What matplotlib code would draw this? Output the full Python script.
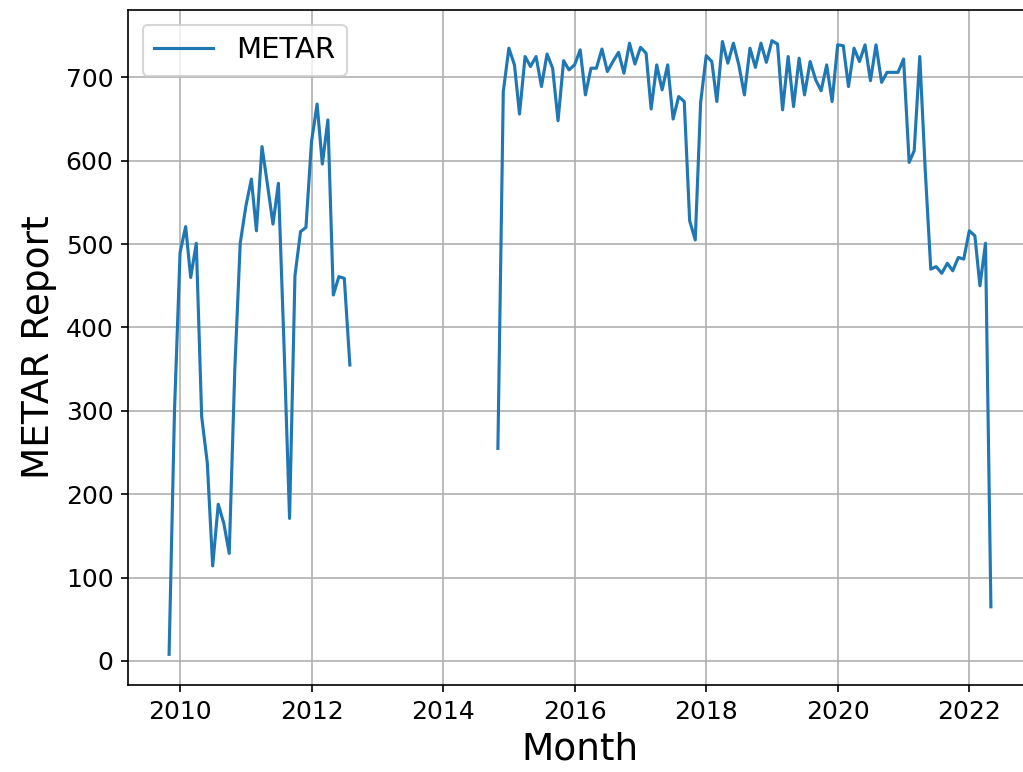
import numpy as np
import pandas as pd
import matplotlib
matplotlib.use("Agg")
import matplotlib.pyplot as plt

# Segment 1: 2009-11 .. 2012-08
seg1_start = "2009-11-01"
seg1_values = [8, 300, 490, 521, 460, 501, 293, 238, 114, 188, 165, 129,
               350, 501, 545, 578, 516, 617, 572, 524, 573, 380, 171, 462,
               515, 520, 623, 668, 596, 649, 439, 461, 459, 355]

# Segment 2: 2014-11 .. 2022-05
seg2_start = "2014-11-01"
seg2_values = [255, 683,
               735, 715, 656, 725, 713, 725, 689, 728, 711, 648, 720, 709,
               715, 733, 679, 711, 711, 734, 707, 719, 730, 705, 741, 716,
               736, 729, 662, 715, 685, 715, 650, 677, 671, 528, 505, 670,
               726, 719, 671, 743, 717, 741, 715, 679, 735, 712, 741, 718,
               744, 740, 661, 725, 665, 723, 679, 719, 697, 684, 715, 671,
               739, 738, 689, 735, 719, 739, 696, 739, 694, 706, 706, 706,
               722, 598, 612, 725, 590, 470, 473, 465, 477, 468, 484, 482,
               516, 510, 450, 501, 65]

d1 = pd.date_range(seg1_start, periods=len(seg1_values), freq="MS")
d2 = pd.date_range(seg2_start, periods=len(seg2_values), freq="MS")
s = pd.concat([pd.Series(seg1_values, index=d1, dtype=float),
               pd.Series(seg2_values, index=d2, dtype=float)])
s = s.reindex(pd.date_range(d1[0], d2[-1], freq="MS"))

W, H = 1023, 772
fig = plt.figure(figsize=(W / 150, H / 150), dpi=150)
left, right, top, bottom = 128, 1032, 10, 685
ax = fig.add_axes([left / W, 1 - bottom / H, (right - left) / W, (bottom - top) / H])
ax.plot(s.index, s.values, color="#1f77b4", linewidth=1.5, label="METAR")
ax.grid(True)
ax.set_axisbelow(True)
ax.set_xlabel("Month", fontsize=18)
ax.set_ylabel("METAR Report", fontsize=18)
ax.tick_params(labelsize=12)
ax.legend(loc="upper left", fontsize=14)
fig.savefig("out.png", dpi=150)
